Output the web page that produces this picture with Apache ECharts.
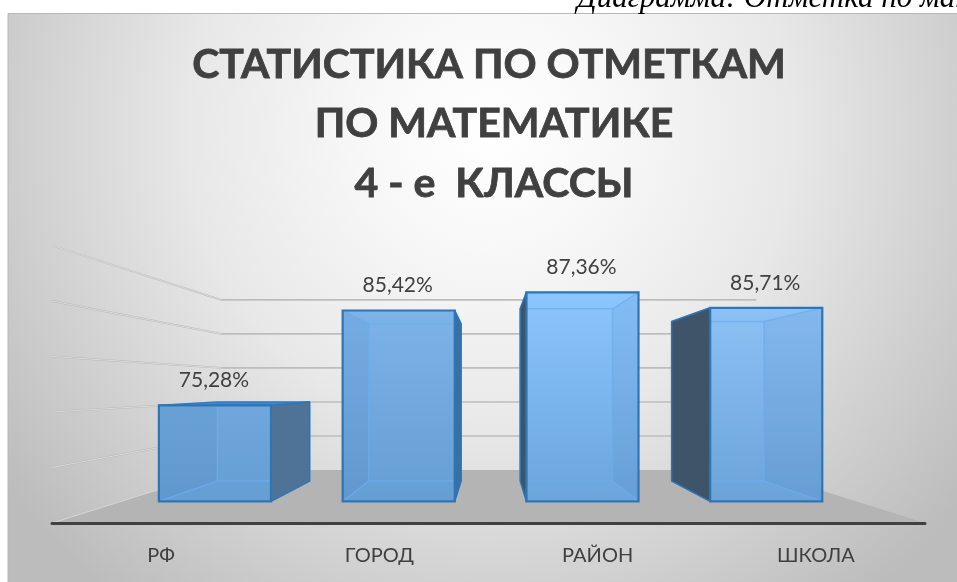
<!DOCTYPE html>
<html><head><meta charset="utf-8">
<style>html,body{margin:0;padding:0;background:#fff}#c{width:957px;height:582px}</style>
<script src="https://cdn.jsdelivr.net/npm/echarts@6/dist/echarts.min.js"></script>
</head><body><div id="c"></div>
<script>
var categories = ['РФ', 'ГОРОД', 'РАЙОН', 'ШКОЛА'];
var percentValues = [75.28, 85.42, 87.36, 85.71];
var valueTicks = [65, 70, 75, 80, 85, 90];

var barTopColors = ['#6fa7dc', '#7cb3e9', '#8dc6ff', '#8cc1f6'];
var barBottomColors = ['#659ed3', '#659ed3', '#6ba5dc', '#6ba3d8'];

// perspective model: vanishing point and depth scales
var VX = 489, VY = 386, S_FRONT = 0.842, S_BACK = 0.694, S_WALL = 0.613, BAR_SHIFT = 2;
function pr(s, p, shift) { return [VX + s * (p[0] - VX) + (shift || 0), VY + s * (p[1] - VY)]; }

var chart = echarts.init(document.getElementById('c'), null, {renderer: 'canvas'});

function renderWall(params, api) {
  var v = api.value(0), cs = params.coordSys;
  var y = api.coord([0, v])[1], L = cs.x, R = cs.x + cs.width;
  var bl = pr(S_WALL, [L, y]), br = pr(S_WALL, [R, y]), kids = [];
  if (v === valueTicks[0]) {
    kids.push({type: 'polygon', shape: {points: [[L, y], [R, y], br, bl]}, style: {fill: '#b4b4b4'}});
    kids.push({type: 'line', shape: {x1: L, y1: y, x2: bl[0], y2: bl[1]}, style: {stroke: '#d6d6d6', lineWidth: 1}});
  } else {
    kids.push({type: 'line', shape: {x1: bl[0], y1: bl[1], x2: br[0], y2: br[1]}, style: {stroke: '#bdbdbd', lineWidth: 1.6}});
    kids.push({type: 'line', shape: {x1: L, y1: y, x2: bl[0], y2: bl[1]}, style: {stroke: '#b8b8b8', lineWidth: 1.8}});
    kids.push({type: 'line', shape: {x1: L, y1: y, x2: bl[0], y2: bl[1]}, style: {stroke: '#e8e8e8', lineWidth: 0.7}});
  }
  return {type: 'group', children: kids};
}

function renderBar(params, api) {
  var i = api.value(0), v = api.value(1);
  var top = api.coord([i, v]), base = api.coord([i, valueTicks[0]]);
  var hw = api.size([1, 0])[0] * 0.305;
  var x0 = top[0] - hw, x1 = top[0] + hw;
  var P = function (s, x, y) { return pr(s, [x, y], BAR_SHIFT); };
  var FLt = P(S_FRONT, x0, top[1]), FRt = P(S_FRONT, x1, top[1]), FLb = P(S_FRONT, x0, base[1]), FRb = P(S_FRONT, x1, base[1]);
  var BLt = P(S_BACK, x0, top[1]), BRt = P(S_BACK, x1, top[1]), BLb = P(S_BACK, x0, base[1]), BRb = P(S_BACK, x1, base[1]);
  var edge = '#2e75b6', inner = 'rgba(110,172,235,0.75)';
  var seg = function (a, b) { return {type: 'line', shape: {x1: a[0], y1: a[1], x2: b[0], y2: b[1]}, style: {stroke: inner, lineWidth: 1.5}}; };
  var kids = [];
  kids.push({type: 'polygon', shape: {points: [FLt, FRt, FRb, FLb]}, style: {
    fill: new echarts.graphic.LinearGradient(0, 0, 0, 1, [{offset: 0, color: barTopColors[i]}, {offset: 1, color: barBottomColors[i]}])
  }});
  var leftOfV = FLt[0] + FRt[0] < 2 * VX;
  var hiddenSide = leftOfV ? [FLt, BLt, BLb, FLb] : [FRt, BRt, BRb, FRb];
  kids.push({type: 'polygon', shape: {points: hiddenSide}, style: {fill: 'rgba(60,110,170,0.10)'}});
  kids.push(seg(BLb, BRb), seg(BLt, BLb), seg(BRt, BRb), seg(FLb, BLb), seg(FRb, BRb), seg(FLt, BLt), seg(FRt, BRt), seg(BLt, BRt));
  var outer = leftOfV ? [FRt, BRt, BRb, FRb] : [FLt, BLt, BLb, FLb];
  kids.push({type: 'polygon', shape: {points: outer}, style: {
    fill: leftOfV ? (i === 0 ? '#4f7397' : '#3a6fa5') : '#3d5469', stroke: edge, lineWidth: 1.5, lineJoin: 'round'}});
  if (BLt[1] < FLt[1]) {
    kids.push({type: 'polygon', shape: {points: [FLt, FRt, BRt, BLt]}, style: {fill: '#3f85c8', stroke: edge, lineWidth: 1}});
  }
  kids.push({type: 'polygon', shape: {points: [FLt, FRt, FRb, FLb]}, style: {fill: 'none', stroke: edge, lineWidth: 2.2}});
  kids.push({type: 'text', style: {
    text: v.toFixed(2).replace('.', ',') + '%', x: (FLt[0] + FRt[0]) / 2 - 1, y: FLt[1] - 25,
    align: 'center', verticalAlign: 'middle', fill: '#404040', font: '21px Lato'}});
  return {type: 'group', children: kids};
}

chart.setOption({
  animation: false,
  backgroundColor: '#ffffff',
  title: {
    text: 'СТАТИСТИКА ПО ОТМЕТКАМ \nПО МАТЕМАТИКЕ\n4 - е  КЛАССЫ',
    left: 489, top: 30, textAlign: 'center',
    textStyle: {fontFamily: 'Lato', fontWeight: 'bold', fontSize: 41, lineHeight: 59.5, color: '#404040', textBorderColor: '#404040', textBorderWidth: 0.8}
  },
  grid: {left: 52, right: 32, top: 245.5, bottom: 59},
  xAxis: {
    type: 'category', data: categories, z: 5,
    axisTick: {show: false},
    axisLine: {lineStyle: {color: '#404040', width: 3, cap: 'round'}},
    axisLabel: {color: '#404040', fontFamily: 'Lato', fontSize: 20, margin: 23}
  },
  yAxis: {type: 'value', min: valueTicks[0], max: valueTicks[valueTicks.length - 1], interval: 5, show: false},
  graphic: [
    {type: 'rect', z: -10, silent: true, shape: {x: 8, y: 13.5, width: 960, height: 580},
      style: {fill: new echarts.graphic.RadialGradient(490, 130, 600, [{offset: 0, color: '#ffffff'}, {offset: 0.2, color: '#f8f8f8'}, {offset: 0.5, color: '#e8e8e8'}, {offset: 1, color: '#bcbcbc'}], true),
        stroke: '#b8b8b8', lineWidth: 1}},
    {type: 'text', z: 10, silent: true, style: {text: 'Диаграмма: Отметка по математике', x: 577, y: 14,
      verticalAlign: 'bottom', fill: '#000', font: 'italic 31px "Liberation Serif"'}}
  ],
  series: [
    {type: 'custom', coordinateSystem: 'cartesian2d', clip: false, z: 1, silent: true, renderItem: renderWall,
      data: valueTicks.map(function (t) { return [t]; }), encode: {y: 0}},
    {type: 'custom', coordinateSystem: 'cartesian2d', clip: false, z: 3, silent: true, renderItem: renderBar,
      data: percentValues.map(function (v, i) { return [i, v]; }), encode: {x: 0, y: 1}}
  ]
});
</script></body></html>
